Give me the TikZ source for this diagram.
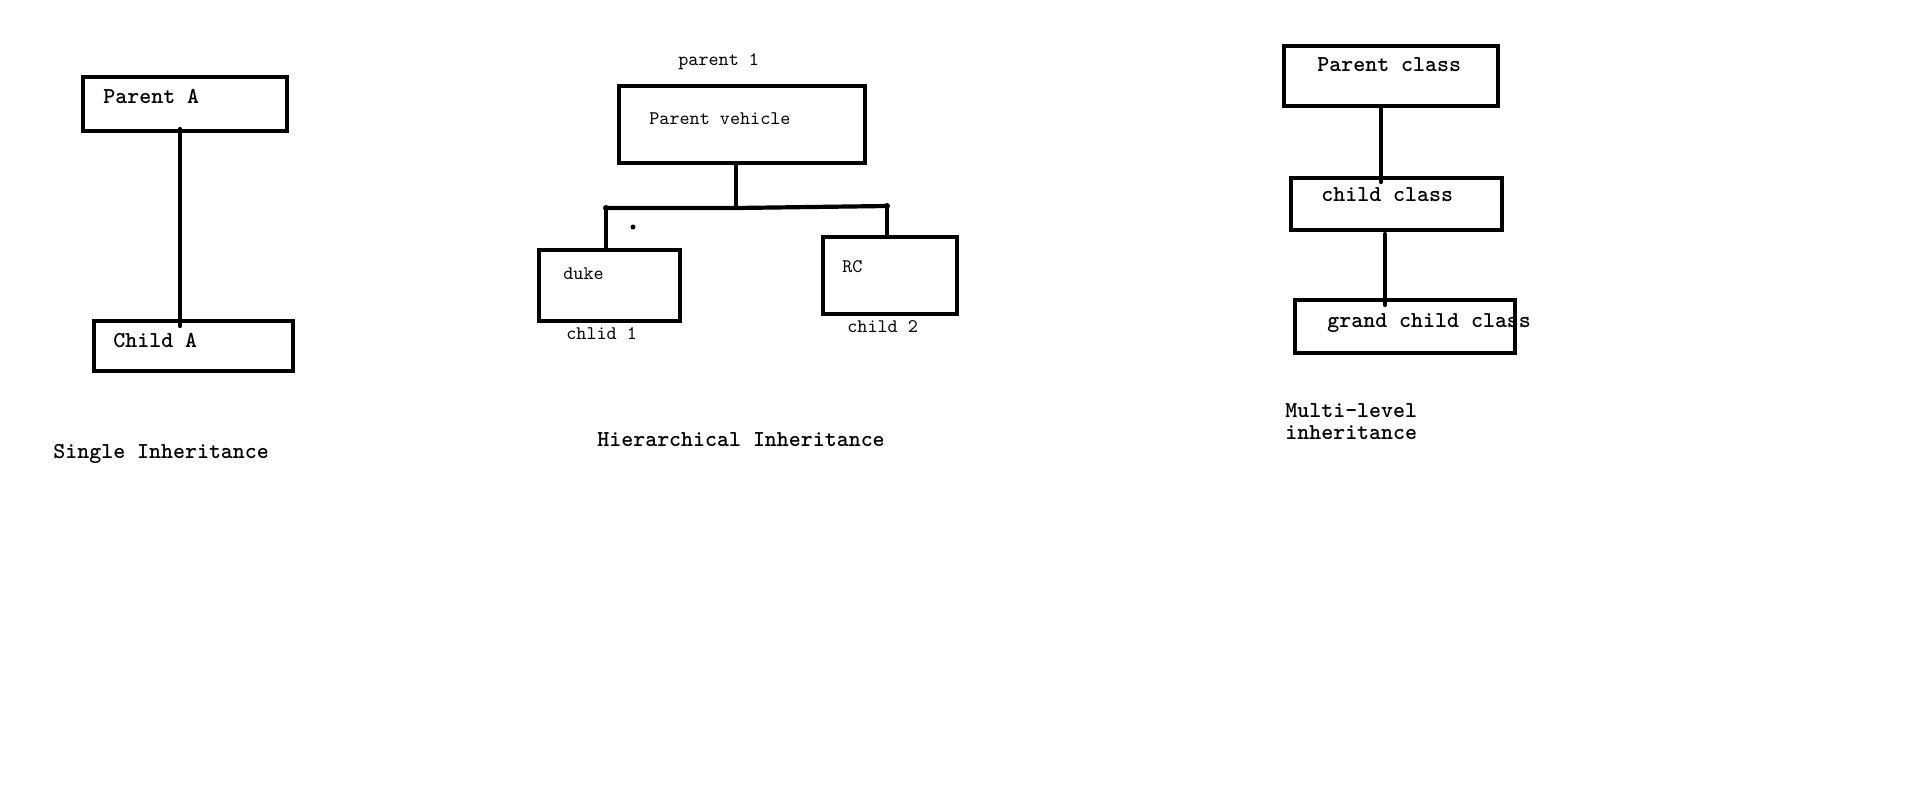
\documentclass[tikz,border=0pt]{standalone}
\usetikzlibrary{calc}

\tikzset{
	box/.style={draw, line width=2.1pt, inner sep=0pt, outer sep=0pt},
	link/.style={line width=2.1pt, line cap=round},
	btext/.style={font=\ttfamily\bfseries\fontsize{11.4}{13}\selectfont, anchor=base west, inner sep=0pt},
	rtext/.style={font=\ttfamily\fontsize{9.6}{11}\selectfont, anchor=base west, inner sep=0pt}
}

\begin{document}
\begin{tikzpicture}[x=0.5pt,y=-0.5pt]
	\useasboundingbox (0,0) rectangle (1914,803);

	\node[box,minimum width=102pt,minimum height=27pt] (pa) at (185,104) {};
	\node[box,minimum width=99.5pt,minimum height=25pt] (ca) at (193.5,346) {};
	\node[btext] (pat) at (103,103) {Parent A};
	\node[btext] (cat) at (113,347) {Child A};
	\node[btext] (single) at (53,458) {Single Inheritance};
	\coordinate (sa) at ($(pa.south)+(-5,-2)$);
	\draw[link] (sa) -- ($(sa |- ca.north)+(0,5)$);

	\node[box,minimum width=123pt,minimum height=38.5pt] (pv) at (742,124.5) {};
	\node[box,minimum width=70.5pt,minimum height=35.5pt] (du) at (609.5,285.5) {};
	\node[box,minimum width=67pt,minimum height=38.5pt] (rc) at (890,275.5) {};
	\node[rtext] (p1) at (678,65) {parent 1};
	\node[rtext] (pvt) at (649,124) {Parent vehicle};
	\node[rtext] (dut) at (563,279) {duke};
	\node[rtext] (c1) at (566,339) {chlid 1};
	\node[rtext] (rct) at (842,272) {RC};
	\node[rtext] (c2) at (847,332) {child 2};
	\node[btext] (hier) at (597,446) {Hierarchical Inheritance};
	\coordinate (jm) at ($(pv.south)+(-6,45)$);
	\coordinate (jl) at ($(du.north)+(-3.5,-42)$);
	\coordinate (jr) at ($(rc.north)+(-3,-31)$);
	\draw[link] ($(pv.south)+(-6,0)$) -- (jm);
	\draw[link] (jl) -- (jm) -- (jr);
	\draw[link] (jl) -- (jl |- du.north);
	\draw[link] (jr) -- (jr |- rc.north);
	\foreach \p in {jl,jr} \fill (\p) circle (3);
	\fill (633,227) circle (2.5);

	\node[box,minimum width=107pt,minimum height=30pt] (pc) at (1391,76) {};
	\node[box,minimum width=105.5pt,minimum height=26pt] (cc) at (1396.5,204) {};
	\node[box,minimum width=110pt,minimum height=26.5pt] (gc) at (1405,326.5) {};
	\node[btext] (pct) at (1317,71) {Parent class};
	\node[btext] (cct) at (1321,201) {child class};
	\node[btext] (gct) at (1327,327) {grand child class};
	\node[btext] (ml1) at (1285,417) {Multi-level};
	\node[btext] (ml2) at (1285,439) {inheritance};
	\coordinate (m1) at ($(pc.south)+(-10,0)$);
	\coordinate (m2) at ($(cc.south)+(-11.5,4)$);
	\draw[link] (m1) -- ($(m1 |- cc.north)+(0,4)$);
	\draw[link] (m2) -- ($(m2 |- gc.north)+(0,5)$);
\end{tikzpicture}
\end{document}
